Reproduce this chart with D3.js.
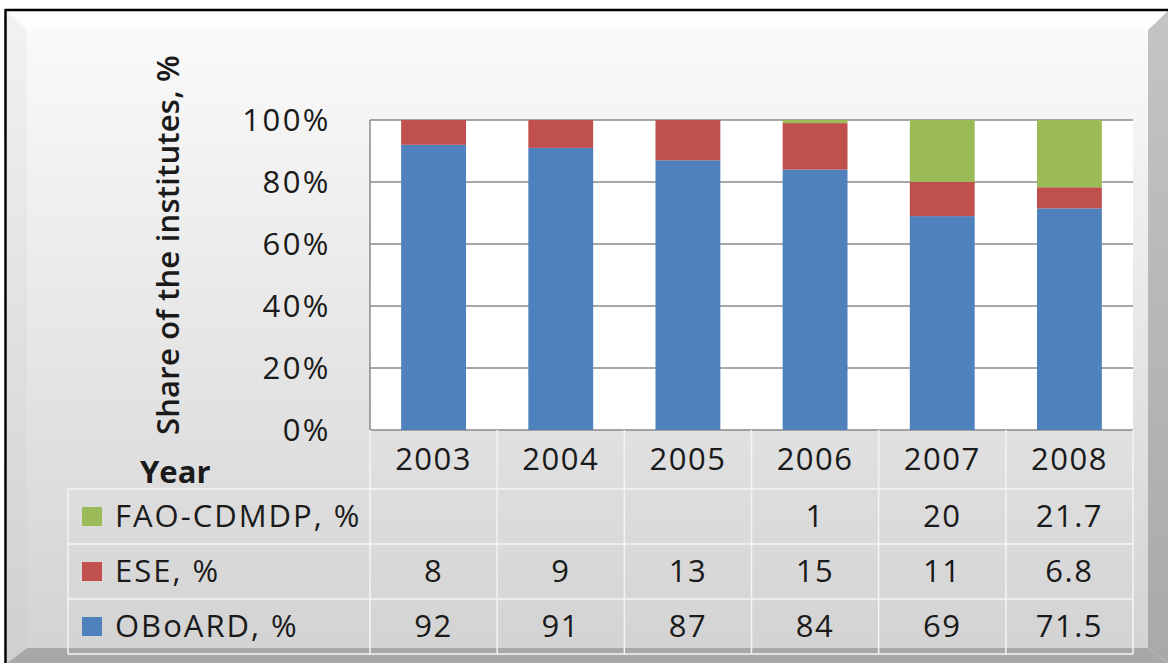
<!DOCTYPE html>
<html>
<head>
<meta charset="utf-8">
<script src="https://cdn.jsdelivr.net/npm/d3@7"></script>
<style>
  body { margin: 0; background: #fff; }
  svg text { font-family: "Open Sans", sans-serif; fill: #1a1a1a; }
</style>
</head>
<body>
<div id="chart"></div>
<script>
// data
const years = ['2003', '2004', '2005', '2006', '2007', '2008'];
const oboard = [92, 91, 87, 84, 69, 71.5];
const ese = [8, 9, 13, 15, 11, 6.8];
const fao = [null, null, null, 1, 20, 21.7];
const seriesKeys = ['oboard', 'ese', 'fao'];
const seriesLabels = { oboard: 'OBoARD, %', ese: 'ESE, %', fao: 'FAO-CDMDP, %' };
const seriesColors = { oboard: '#4F81BD', ese: '#C0504D', fao: '#9BBB59' };
const tableOrder = ['fao', 'ese', 'oboard'];
const yTicks = [0, 0.2, 0.4, 0.6, 0.8, 1];

const W = 1168, H = 663;
const plot = { left: 370, right: 1133, top: 120, bottom: 430 };
const table = { left: 68, headerBottom: 489, rowH: 55 };

const rows = years.map((y, i) => ({ year: y, oboard: oboard[i], ese: ese[i], fao: fao[i] }));

const svg = d3.select('#chart').append('svg')
  .attr('width', W)
  .attr('height', H);

const defs = svg.append('defs');
const faceGrad = defs.append('linearGradient').attr('id', 'face').attr('x1', 0).attr('y1', 0).attr('x2', 0).attr('y2', 1);
faceGrad.append('stop').attr('offset', '0%').attr('stop-color', '#fafafa');
faceGrad.append('stop').attr('offset', '100%').attr('stop-color', '#d3d3d3');
const leftGrad = defs.append('linearGradient').attr('id', 'leftBevel').attr('x1', 0).attr('y1', 0).attr('x2', 0).attr('y2', 1);
leftGrad.append('stop').attr('offset', '0%').attr('stop-color', '#f2f2f2');
leftGrad.append('stop').attr('offset', '100%').attr('stop-color', '#cfcfcf');
const rightGrad = defs.append('linearGradient').attr('id', 'rightBevel').attr('x1', 0).attr('y1', 0).attr('x2', 0).attr('y2', 1);
rightGrad.append('stop').attr('offset', '0%').attr('stop-color', '#c4c4c4');
rightGrad.append('stop').attr('offset', '100%').attr('stop-color', '#a9a9a9');

// frame with bevel
svg.append('rect').attr('x', 27).attr('y', 30).attr('width', 1121).attr('height', 618).attr('fill', 'url(#face)');
svg.append('polygon').attr('points', '7,11 1168,11 1148,30 27,30').attr('fill', '#fdfdfd');
svg.append('polygon').attr('points', '7,11 27,30 27,648 7,663').attr('fill', 'url(#leftBevel)');
svg.append('polygon').attr('points', '1148,30 1168,11 1168,663 1148,648').attr('fill', 'url(#rightBevel)');
svg.append('polygon').attr('points', '27,648 1148,648 1168,663 7,663').attr('fill', '#a8a8a8');
svg.append('line').attr('x1', 5).attr('x2', W).attr('y1', 10).attr('y2', 10).attr('stroke', '#000').attr('stroke-width', 2.5);
svg.append('line').attr('x1', 5.5).attr('x2', 5.5).attr('y1', 9).attr('y2', H).attr('stroke', '#000').attr('stroke-width', 2.5);

// scales
const x = d3.scaleBand().domain(years).range([plot.left, plot.right]).padding(0);
const barW = x.bandwidth() * 0.51;
const y = d3.scaleLinear().domain([0, 1]).range([plot.bottom, plot.top]);

// plot area
svg.append('rect')
  .attr('x', plot.left).attr('y', plot.top)
  .attr('width', plot.right - plot.left).attr('height', plot.bottom - plot.top)
  .attr('fill', '#fff');

svg.append('g').selectAll('line')
  .data(yTicks)
  .join('line')
  .attr('x1', plot.left).attr('x2', plot.right)
  .attr('y1', d => y(d)).attr('y2', d => y(d))
  .attr('stroke', '#8a8a8a').attr('stroke-width', 1.5);

svg.append('line')
  .attr('x1', plot.left).attr('x2', plot.left)
  .attr('y1', plot.top).attr('y2', plot.bottom)
  .attr('stroke', '#8a8a8a').attr('stroke-width', 1.5);

// stacked bars
const stack = d3.stack()
  .keys(seriesKeys)
  .value((d, k) => d[k] || 0)
  .offset(d3.stackOffsetExpand);

svg.append('g').selectAll('g')
  .data(stack(rows))
  .join('g')
  .attr('fill', s => seriesColors[s.key])
  .selectAll('rect')
  .data(s => s)
  .join('rect')
  .attr('x', d => x(d.data.year) + (x.bandwidth() - barW) / 2)
  .attr('width', barW)
  .attr('y', d => y(d[1]))
  .attr('height', d => y(d[0]) - y(d[1]));

// y axis labels
svg.append('g').selectAll('text')
  .data(yTicks)
  .join('text')
  .attr('x', 331)
  .attr('y', d => y(d))
  .attr('dy', '0.36em')
  .attr('text-anchor', 'end')
  .attr('font-size', 31)
  .attr('letter-spacing', 2.5)
  .text(d3.format('.0%'));

svg.append('text')
  .attr('transform', 'translate(179,245) rotate(-90)')
  .attr('text-anchor', 'middle')
  .attr('font-size', 31)
  .attr('font-weight', 600)
  .attr('letter-spacing', 0.2)
  .text('Share of the institutes, %');

svg.append('text')
  .attr('x', 140).attr('y', 483)
  .attr('font-size', 31)
  .attr('font-weight', 700)
  .text('Year');

// data table
const tableG = svg.append('g');
const lineColor = '#f4f4f4';
const tableBottom = table.headerBottom + table.rowH * tableOrder.length;

// horizontal lines
tableG.selectAll('.hline')
  .data(d3.range(tableOrder.length + 1))
  .join('line')
  .attr('class', 'hline')
  .attr('x1', table.left).attr('x2', plot.right)
  .attr('y1', i => table.headerBottom + i * table.rowH)
  .attr('y2', i => table.headerBottom + i * table.rowH)
  .attr('stroke', lineColor).attr('stroke-width', 1.5);

// vertical lines
tableG.selectAll('.vline')
  .data(years.map(yr => x(yr)).concat([plot.right]))
  .join('line')
  .attr('class', 'vline')
  .attr('x1', d => d).attr('x2', d => d)
  .attr('y1', plot.bottom).attr('y2', tableBottom)
  .attr('stroke', lineColor).attr('stroke-width', 1.5);

tableG.append('line')
  .attr('x1', table.left).attr('x2', table.left)
  .attr('y1', table.headerBottom).attr('y2', tableBottom)
  .attr('stroke', lineColor).attr('stroke-width', 1.5);

// year header
tableG.selectAll('.year')
  .data(years)
  .join('text')
  .attr('class', 'year')
  .attr('x', d => x(d) + x.bandwidth() / 2)
  .attr('y', 470)
  .attr('text-anchor', 'middle')
  .attr('font-size', 31)
  .attr('letter-spacing', 1.5)
  .text(d => d);

// series rows
const rowG = tableG.selectAll('.row')
  .data(tableOrder)
  .join('g')
  .attr('class', 'row')
  .attr('transform', (k, i) => `translate(0,${table.headerBottom + i * table.rowH})`);

rowG.append('rect')
  .attr('x', 82).attr('y', 18)
  .attr('width', 20).attr('height', 19)
  .attr('fill', k => seriesColors[k]);

rowG.append('text')
  .attr('x', 115).attr('y', 38)
  .attr('font-size', 31)
  .attr('letter-spacing', 2)
  .text(k => seriesLabels[k]);

rowG.selectAll('.val')
  .data(k => rows.map(r => ({ year: r.year, v: r[k] })))
  .join('text')
  .attr('class', 'val')
  .attr('x', d => x(d.year) + x.bandwidth() / 2)
  .attr('y', 38)
  .attr('text-anchor', 'middle')
  .attr('font-size', 31)
  .attr('letter-spacing', 1.5)
  .text(d => d.v == null ? '' : d.v);
</script>
</body>
</html>
